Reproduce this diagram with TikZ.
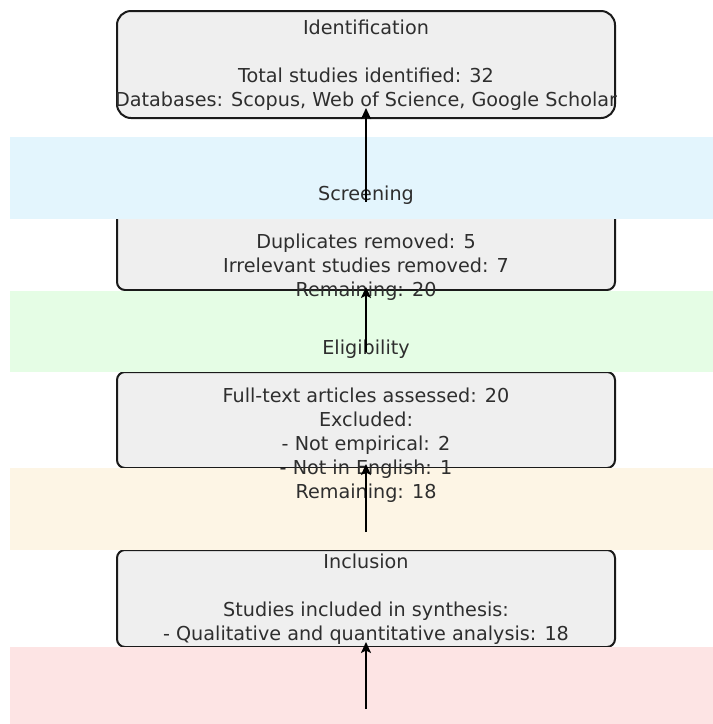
\documentclass[tikz,border=0pt]{standalone}
\usepackage{fontspec}
\setmainfont{DejaVu Sans}
\usetikzlibrary{arrows.meta}
\definecolor{boxfill}{HTML}{EFEFEF}
\definecolor{boxline}{HTML}{1A1A1A}
\definecolor{bandblue}{HTML}{E3F5FD}
\definecolor{bandgreen}{HTML}{E5FDE5}
\definecolor{bandorange}{HTML}{FDF5E5}
\definecolor{bandred}{HTML}{FDE4E4}
\definecolor{txt}{HTML}{2E2E2E}
\begin{document}
\begin{tikzpicture}[x=1pt,y=-1pt,
  stagebox/.style={draw=boxline, line width=2pt, fill=boxfill, rounded corners=8pt,
    minimum width=498pt, inner sep=0pt, outer sep=0pt},
  band/.style={anchor=north west, minimum width=703pt, inner sep=0pt, outer sep=0pt},
  lbl/.style={text=txt, align=center, font=\fontsize{19.2}{24}\selectfont, inner sep=0pt},
  flow/.style={line width=2.8pt, -{Stealth[length=11pt,width=10pt,inset=2.5pt]}}]
\useasboundingbox[fill=white] (0,0) rectangle (713,724);
% boxes
\node[stagebox, rounded corners=14pt, minimum height=107pt] (box1) at (366,64.5) {};
\node[stagebox, minimum height=97pt] (box2) at (366,241.5) {};
\node[stagebox, minimum height=96pt] (box3) at (366,420) {};
\node[stagebox, minimum height=97pt] (box4) at (366,598.5) {};
% bands
\node[band, fill=bandblue, minimum height=82pt] (band1) at (10,137) {};
\node[band, fill=bandgreen, minimum height=81pt] (band2) at (10,291) {};
\node[band, fill=bandorange, minimum height=82pt] (band3) at (10,468) {};
\node[band, fill=bandred, minimum height=77pt] (band4) at (10,647) {};
% texts
\node[lbl] (t1) at (366,65) {Identification\\[24pt]Total studies identified: 32\\Databases: Scopus, Web of Science, Google Scholar};
\node[lbl] (t2) at (366,243.5) {Screening\\[24pt]Duplicates removed: 5\\Irrelevant studies removed: 7\\Remaining: 20};
\node[lbl] (t3) at (366,421) {Eligibility\\[24pt]Full-text articles assessed: 20\\Excluded:\\- Not empirical: 2\\- Not in English: 1\\Remaining: 18};
\node[lbl] (t4) at (366,599) {Inclusion\\[24pt]Studies included in synthesis:\\- Qualitative and quantitative analysis: 18};
% arrows
\coordinate (a1) at (366,202);
\coordinate (a2) at (366,352);
\coordinate (a3) at (366,532);
\coordinate (a4) at (366,709);
\draw[flow] (a1) -- ([yshift=10pt]box1.south);
\draw[flow] (a2) -- ([yshift=3pt]box2.south);
\draw[flow] (a3) -- ([yshift=4pt]box3.south);
\draw[flow] (a4) -- ([yshift=5pt]box4.south);
\end{tikzpicture}
\end{document}
